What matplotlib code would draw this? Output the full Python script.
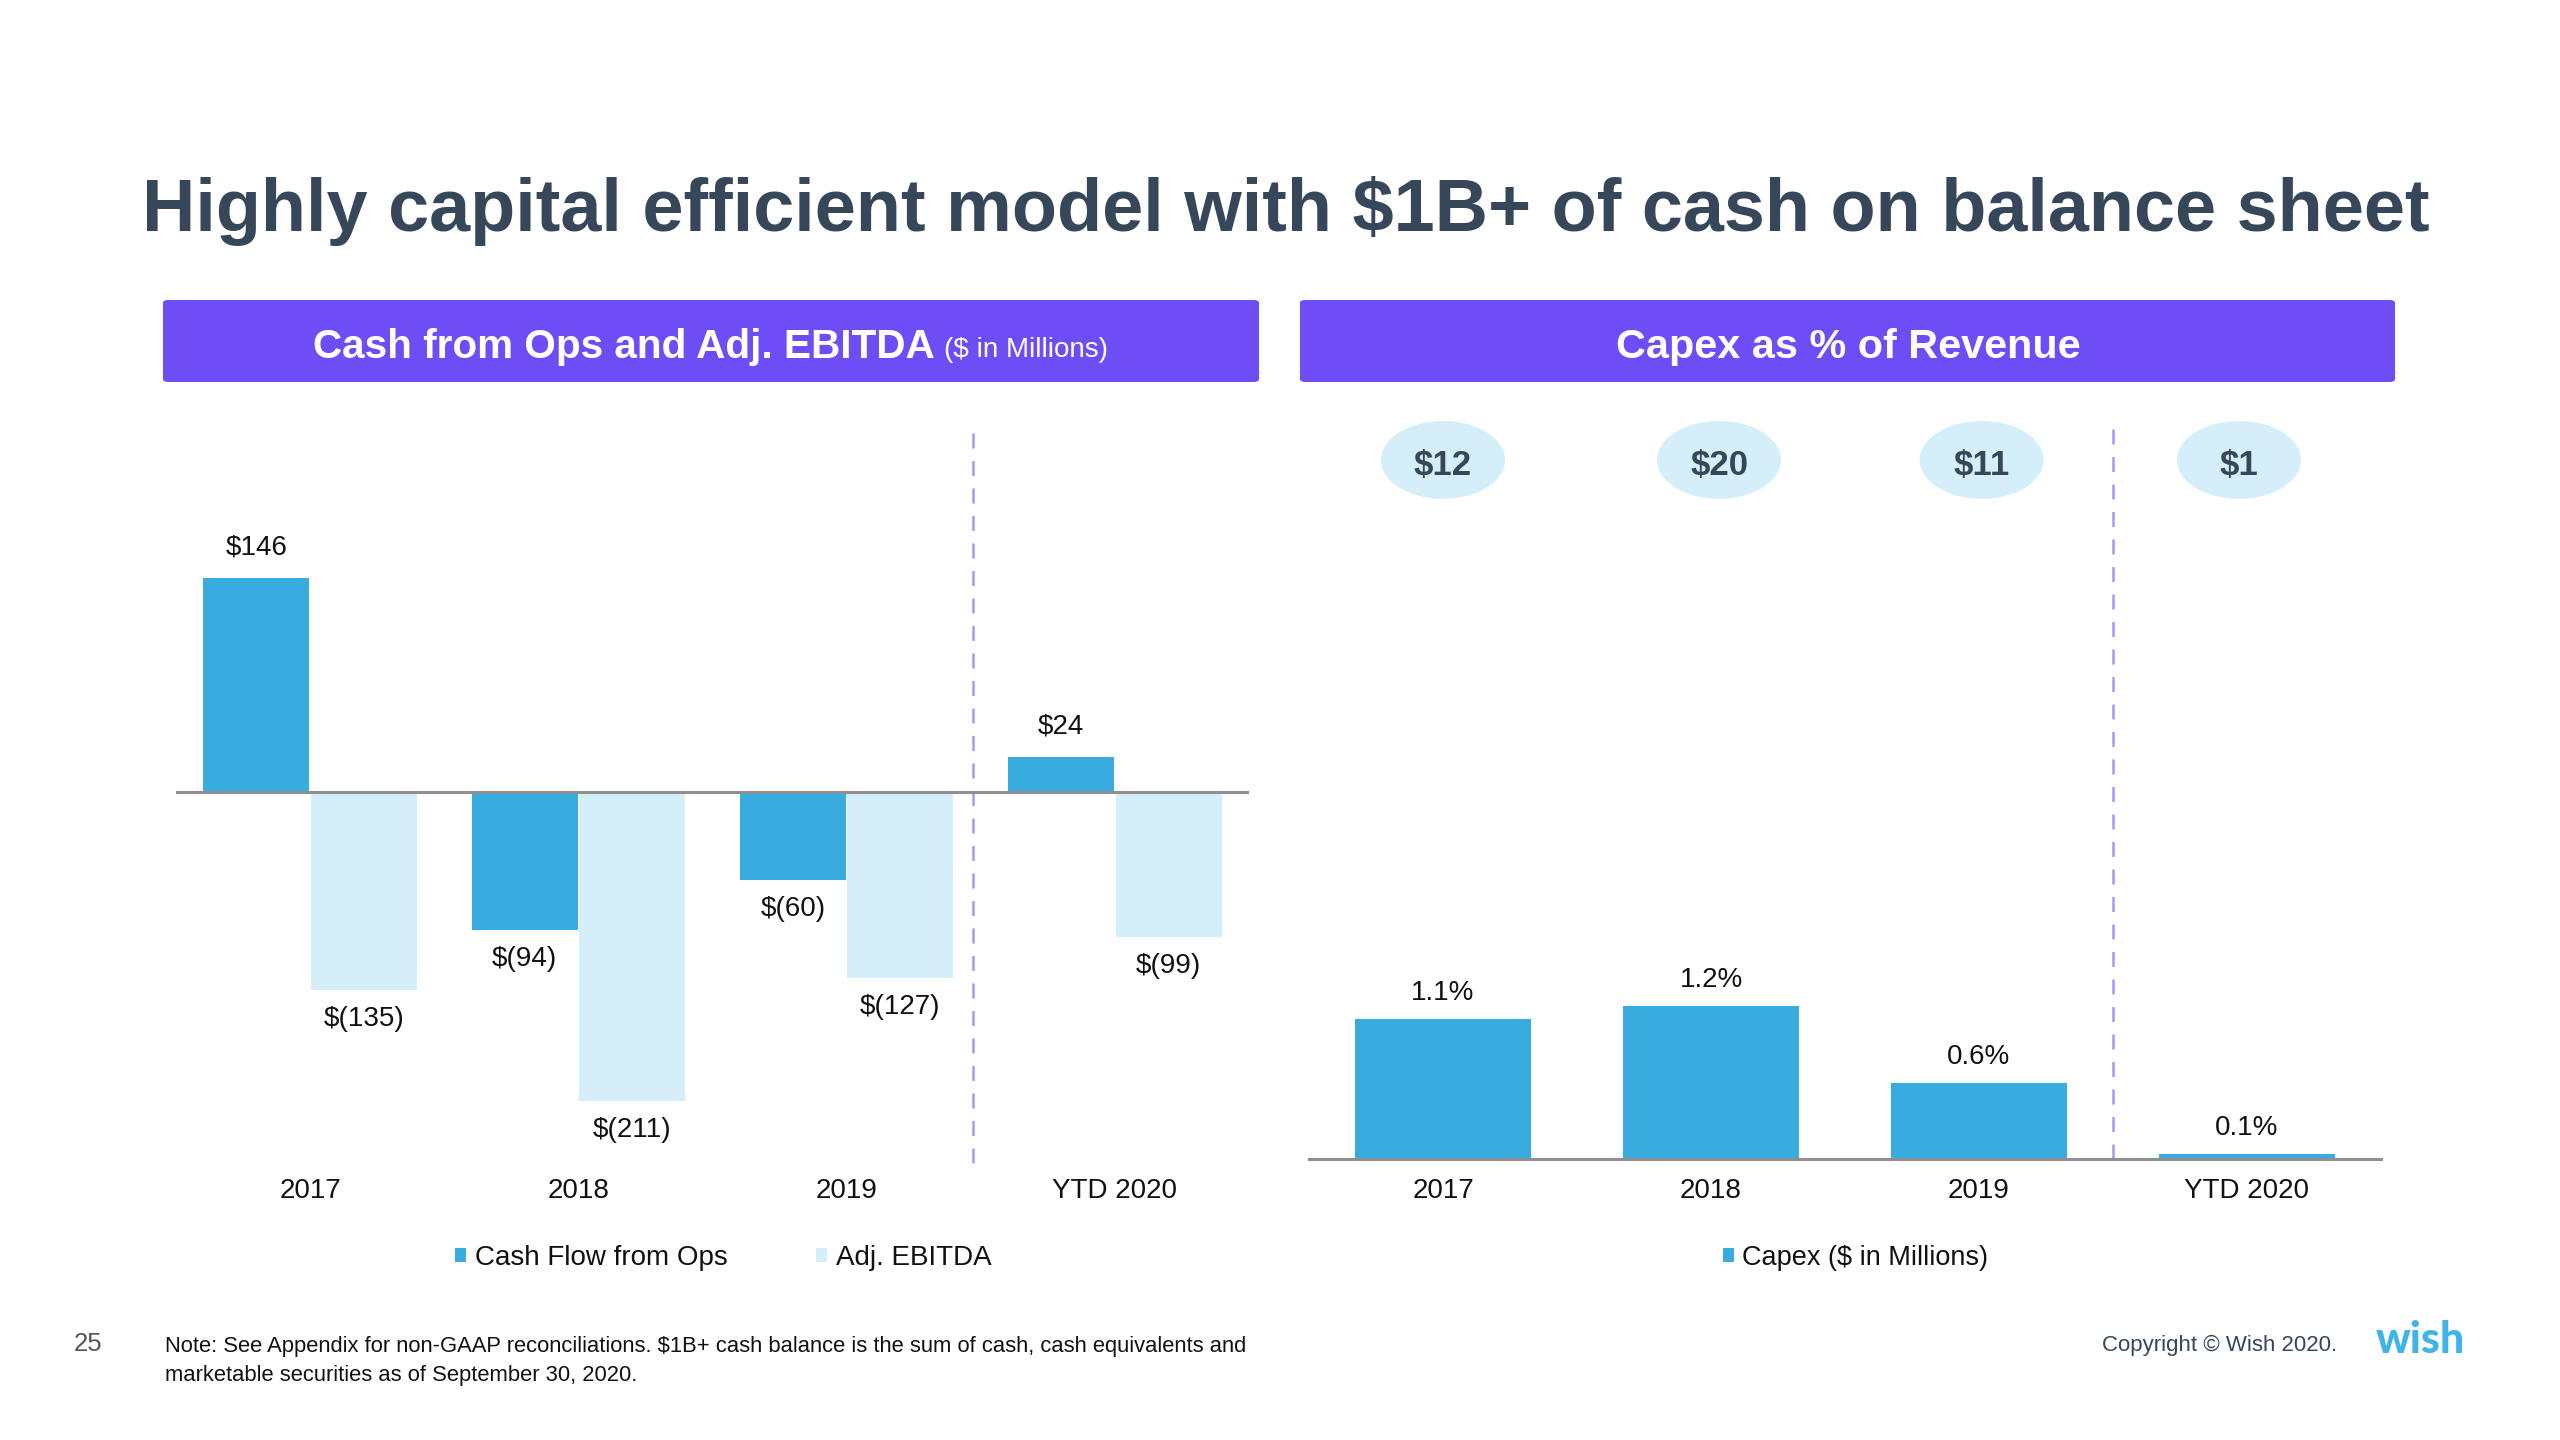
import numpy as np
import matplotlib
matplotlib.use("Agg")
import matplotlib.pyplot as plt
from matplotlib.patches import Ellipse, FancyBboxPatch

plt.rcParams["font.family"] = ["Liberation Sans", "DejaVu Sans"]

W, H = 2560, 1440
BLUE = "#38acdf"; LIGHT = "#d4eff9"; PURPLE = "#6e4cf6"; SLATE = "#37475a"
GRAY = "#8f8f8f"; DASH = "#a49af0"; TXT = "#111111"

CATEGORIES = ["2017", "2018", "2019", "YTD 2020"]
CASH_OPS = [146, -94, -60, 24]
ADJ_EBITDA = [-135, -211, -127, -99]
CAPEX_PCT = [1.1, 1.2, 0.6, 0.04]
CAPEX_PCT_LABELS = ["1.1%", "1.2%", "0.6%", "0.1%"]
CAPEX_USD = [12, 20, 11, 1]

# bubbles sit a touch off the bar centres in the original slide
BUBBLE_DX = [0.0, 0.03, 0.01, -0.03]


def money(v):
    return "$%d" % v if v >= 0 else "$(%d)" % -v


def px_axes(fig, x0, y0, x1, y1):
    # pixel box (top-left origin) -> figure fraction axes
    return fig.add_axes([x0 / W, 1 - y1 / H, (x1 - x0) / W, (y1 - y0) / H])


fig = plt.figure(figsize=(W / 100, H / 100), dpi=100)
fig.patch.set_facecolor("white")

# title
fig.text(1286 / W, 1 - 211 / H, "Highly capital efficient model with $1B+ of cash on balance sheet",
         ha="center", va="center", fontsize=53.2, fontweight="bold", color=SLATE)

# header bars
for x0, x1 in [(163, 1259), (1300, 2395)]:
    fig.patches.append(FancyBboxPatch((x0 / W, 1 - 382 / H), (x1 - x0) / W, 82 / H,
                                      boxstyle="round,pad=0,rounding_size=0.002",
                                      transform=fig.transFigure, facecolor=PURPLE,
                                      edgecolor="none"))
fig.text(313 / W, 1 - 347 / H, "Cash from Ops and Adj. EBITDA", ha="left", va="center",
         fontsize=29.2, fontweight="bold", color="white")
fig.text(944 / W, 1 - 350 / H, "($ in Millions)", ha="left", va="center",
         fontsize=20, color="white")
fig.text(1848 / W, 1 - 347 / H, "Capex as % of Revenue", ha="center", va="center",
         fontsize=29.8, fontweight="bold", color="white")

# ---- left chart: cash from ops and adj. EBITDA
ax = px_axes(fig, 176, 411, 1249, 1173)
x = np.arange(len(CATEGORIES))
bw = 0.395
ax.bar(x - 0.2, CASH_OPS, bw, color=BLUE, label="Cash Flow from Ops")
ax.bar(x + 0.2, ADJ_EBITDA, bw, color=LIGHT, label="Adj. EBITDA")
ax.set_xlim(-0.5, 3.5); ax.set_ylim(-260, 260)
ax.axhline(0, color=GRAY, lw=2.2, zorder=3)
ax.plot([2.47, 2.47], [245, -256], ls=(0, (6, 5)), color=DASH, lw=1.8, clip_on=False)
for xi, v in zip(x - 0.2, CASH_OPS):
    ax.text(xi, v + 12 if v > 0 else v - 11, money(v), ha="center",
            va="bottom" if v > 0 else "top", fontsize=20, color=TXT)
for xi, v in zip(x + 0.2, ADJ_EBITDA):
    ax.text(xi, v - 11, money(v), ha="center", va="top", fontsize=20, color=TXT)
for xi, c in zip(x, CATEGORIES):
    ax.text(xi, -272, c, ha="center", va="center", fontsize=20, color=TXT, clip_on=False)
ax.axis("off")
ax.legend(loc="center", bbox_to_anchor=(0.51, 1 - (1258 - 411) / (1173 - 411)), ncol=2,
          frameon=False, fontsize=20, handlelength=0.4, handleheight=0.4,
          handletextpad=0.3, columnspacing=3.2, labelcolor=TXT)

# ---- right chart: capex as % of revenue
ax2 = px_axes(fig, 1309, 395, 2381, 1159)
ax2.bar(x, CAPEX_PCT, 0.66, color=BLUE, label="Capex ($ in Millions)")
ax2.set_xlim(-0.5, 3.5); ax2.set_ylim(0, 6)
ax2.axhline(0, color=GRAY, lw=2.2, zorder=3, clip_on=False)
ax2.plot([2.5, 2.5], [0, 5.74], ls=(0, (6, 5)), color=DASH, lw=1.8, clip_on=False)
for xi, v, lab in zip(x, CAPEX_PCT, CAPEX_PCT_LABELS):
    ax2.text(xi, v + 0.1, lab, ha="center", va="bottom", fontsize=20, color=TXT)
for xi, c in zip(x, CATEGORIES):
    ax2.text(xi, -0.25, c, ha="center", va="center", fontsize=20, color=TXT, clip_on=False)
for xi, dx, v in zip(x, BUBBLE_DX, CAPEX_USD):
    ax2.add_patch(Ellipse((xi + dx, 5.49), 0.463, 0.612, facecolor=LIGHT, edgecolor="none",
                          clip_on=False))
    ax2.text(xi + dx, 5.45, "$%d" % v, ha="center", va="center", fontsize=25,
             fontweight="bold", color=SLATE)
ax2.axis("off")
ax2.legend(loc="center", bbox_to_anchor=(0.51, -(1258 - 1159) / (1159 - 395)),
           frameon=False, fontsize=19.5, handlelength=0.4, handleheight=0.4,
           handletextpad=0.3, labelcolor=TXT)

# footer
fig.text(88 / W, 1 - 1344 / H, "25", ha="center", va="center", fontsize=18.5, color="#555555")
fig.text(165 / W, 1 - 1361 / H,
         "Note: See Appendix for non-GAAP reconciliations. $1B+ cash balance is the sum of cash, cash equivalents and\n"
         "marketable securities as of September 30, 2020.",
         ha="left", va="center", fontsize=15.8, color=TXT, linespacing=1.45)
fig.text(2337 / W, 1 - 1345 / H, "Copyright \u00a9 Wish 2020.", ha="right", va="center",
         fontsize=16, color=SLATE)
fig.text(2376 / W, 1 - 1340 / H, "wish", ha="left", va="center", fontsize=31,
         fontweight="black", family=["Lato", "DejaVu Sans"], color="#3fb4ea")

fig.savefig("out.png", dpi=100, facecolor="white")
